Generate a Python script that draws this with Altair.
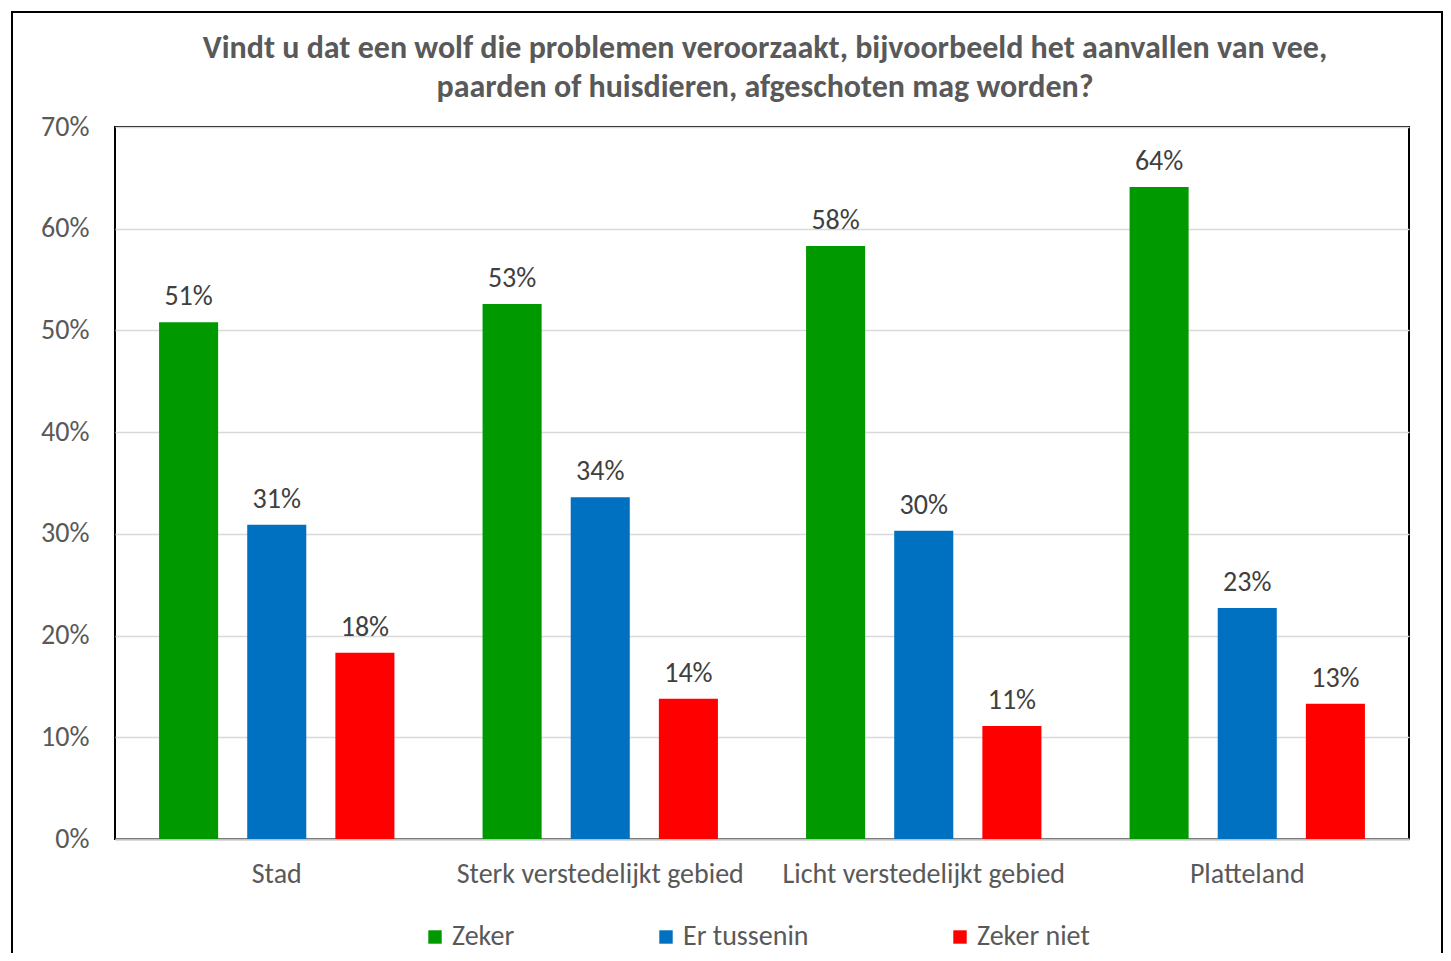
import altair as alt
import pandas as pd

categories = ["Stad", "Sterk verstedelijkt gebied", "Licht verstedelijkt gebied", "Platteland"]
series = ["Zeker", "Er tussenin", "Zeker niet"]
colors = ["#009900", "#0070C0", "#FF0000"]
zeker = [0.508, 0.526, 0.583, 0.641]
er_tussenin = [0.309, 0.336, 0.303, 0.227]
zeker_niet = [0.183, 0.138, 0.111, 0.133]
title_lines = [
    "Vindt u dat een wolf die problemen veroorzaakt, bijvoorbeeld het aanvallen van vee,",
    "paarden of huisdieren, afgeschoten mag worden?",
]

rows = []
for s, vals in zip(series, [zeker, er_tussenin, zeker_niet]):
    for c, v in zip(categories, vals):
        rows.append({"cat": c, "series": s, "value": v})
df = pd.DataFrame(rows)

FONT = "Carlito, Lato, sans-serif"
GRAY = "#595959"
FS = 28

x_enc = alt.X(
    "cat:N",
    sort=categories,
    scale=alt.Scale(paddingInner=0, paddingOuter=0),
    axis=alt.Axis(
        title=None, labelAngle=0, labelFontSize=FS, labelFont=FONT, labelColor=GRAY,
        ticks=False, domainColor="#bfbfbf", domainWidth=2, labelPadding=21, labelLimit=0,
    ),
)
xoff_enc = alt.XOffset(
    "series:N", sort=series, scale=alt.Scale(paddingInner=0.33, paddingOuter=0.5)
)
y_enc = alt.Y(
    "value:Q",
    scale=alt.Scale(domain=[0, 0.7], nice=False),
    axis=alt.Axis(
        title=None, format=".0%", values=[0, 0.1, 0.2, 0.3, 0.4, 0.5, 0.6, 0.7],
        labelFontSize=FS, labelFont=FONT, labelColor=GRAY, ticks=False, domain=False,
        gridColor="#d9d9d9", gridWidth=1.5, labelPadding=26,
    ),
)

base = alt.Chart(df)

bars = base.mark_bar().encode(
    x=x_enc,
    xOffset=xoff_enc,
    y=y_enc,
    color=alt.Color(
        "series:N",
        sort=series,
        scale=alt.Scale(domain=series, range=colors),
        legend=alt.Legend(
            title=None, orient="none", direction="horizontal", legendX=306, legendY=796,
            symbolType="square", symbolSize=180, symbolStrokeWidth=0, labelFontSize=FS,
            labelFont=FONT, labelColor=GRAY, columnPadding=137, labelOffset=3,
        ),
    ),
)

labels = base.mark_text(
    fontSize=FS, font=FONT, color="#404040", baseline="alphabetic", dy=-17
).encode(
    x=x_enc,
    xOffset=xoff_enc,
    y=y_enc,
    text=alt.Text("value:Q", format=".0%"),
)

title = alt.Chart(pd.DataFrame({"a": [0]})).mark_text(
    text=title_lines, fontSize=32, font=FONT, fontWeight="bold", color=GRAY,
    align="center", baseline="middle", lineHeight=39,
).encode(x=alt.value(650), y=alt.value(-79))

border = alt.Chart(pd.DataFrame({"a": [0]})).mark_rect(
    fillOpacity=0, stroke="black", strokeWidth=2
).encode(
    x=alt.value(-103), x2=alt.value(1327), y=alt.value(-115), y2=alt.value(900)
)

chart = alt.layer(bars, labels, title, border).properties(
    width=1294,
    height=712,
    background="white",
    autosize=alt.AutoSizeParams(type="none"),
    padding={"left": 107, "top": 119, "right": 34, "bottom": 114},
).configure_view(
    stroke="black", strokeWidth=2
)

chart.save("out.html", embed_options={"renderer": "svg", "actions": False})
